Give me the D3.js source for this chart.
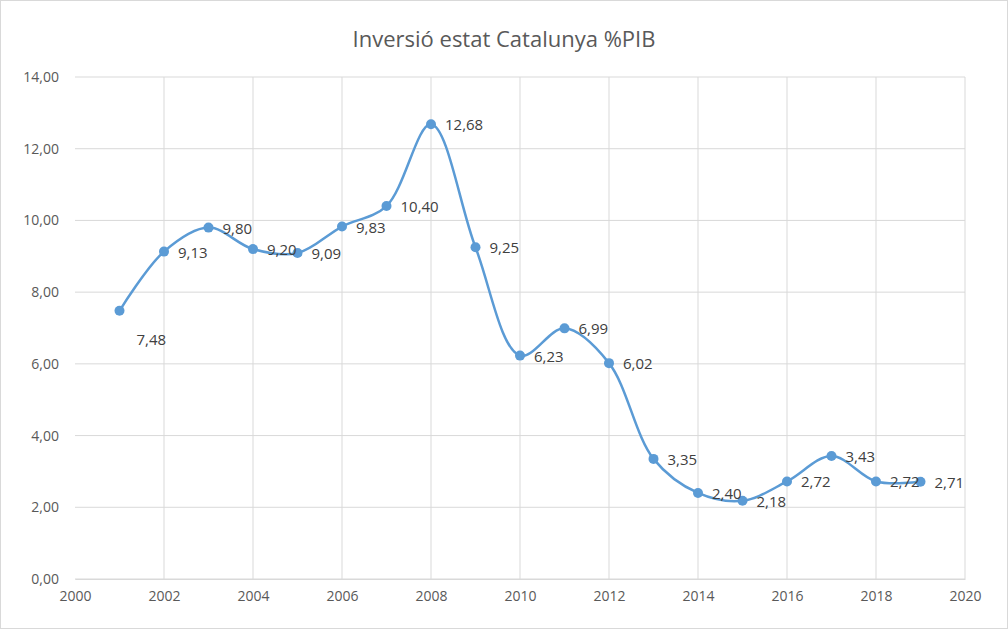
<!DOCTYPE html>
<html><head><meta charset="utf-8">
<script src="https://cdn.jsdelivr.net/npm/d3@7"></script>
<style>body{margin:0;background:#fff;font-family:"Open Sans",sans-serif;}</style>
</head><body>
<svg id="chart" width="1008" height="629"></svg>
<script>
const years = [2001,2002,2003,2004,2005,2006,2007,2008,2009,2010,2011,2012,2013,2014,2015,2016,2017,2018,2019];
const values = [7.48,9.13,9.80,9.20,9.09,9.83,10.40,12.68,9.25,6.23,6.99,6.02,3.35,2.40,2.18,2.72,3.43,2.72,2.71];
const xTicks = [2000,2002,2004,2006,2008,2010,2012,2014,2016,2018,2020];
const yTicks = [0,2,4,6,8,10,12,14];
const title = 'Inversió estat Catalunya %PIB';

const svg = d3.select('#chart');
const fmt = v => d3.format('.2f')(v).replace('.', ',');
const color = '#5b9bd5';

svg.append('rect').attr('x', 0.5).attr('y', 0.5).attr('width', 1007).attr('height', 628)
  .attr('fill', '#fff').attr('stroke', '#d9d9d9');

svg.append('text').attr('x', 504).attr('y', 47).attr('text-anchor', 'middle')
  .attr('font-size', 22).attr('fill', '#595959').text(title);

const x = d3.scaleLinear().domain([2000, 2020]).range([75, 965]);
const y = d3.scaleLinear().domain([0, 14]).range([579, 77]);

// gridlines
svg.append('g').selectAll('line').data(yTicks).join('line')
  .attr('x1', x(2000)).attr('x2', x(2020)).attr('y1', d => y(d)).attr('y2', d => y(d))
  .attr('stroke', '#d9d9d9');
svg.append('g').selectAll('line').data(xTicks.slice(1)).join('line')
  .attr('x1', d => x(d)).attr('x2', d => x(d)).attr('y1', y(0)).attr('y2', y(14))
  .attr('stroke', '#d9d9d9');

const xAxis = svg.append('g').attr('transform', `translate(0,${y(0)})`)
  .call(d3.axisBottom(x).tickValues(xTicks).tickFormat(d3.format('d')).tickSize(0).tickPadding(12));
xAxis.select('.domain').attr('stroke', '#d9d9d9');
xAxis.selectAll('text').attr('font-size', 14).attr('fill', '#595959').attr('font-family', 'Open Sans');

const yAxis = svg.append('g').attr('transform', `translate(${x(2000)},0)`)
  .call(d3.axisLeft(y).tickValues(yTicks).tickFormat(fmt).tickSize(0).tickPadding(16));
yAxis.select('.domain').remove();
yAxis.selectAll('text').attr('font-size', 14).attr('fill', '#595959').attr('font-family', 'Open Sans');

const pts = years.map((yr, i) => [yr, values[i]]);
svg.append('path').datum(pts)
  .attr('d', d3.line().x(d => x(d[0])).y(d => y(d[1])).curve(d3.curveCatmullRom.alpha(0.5)))
  .attr('fill', 'none').attr('stroke', color).attr('stroke-width', 2.5);

svg.append('g').selectAll('circle').data(pts).join('circle')
  .attr('cx', d => x(d[0])).attr('cy', d => y(d[1])).attr('r', 5).attr('fill', color);

svg.append('g').selectAll('text').data(pts).join('text')
  .attr('x', (d, i) => x(d[0]) + (i === 0 ? 17 : 14))
  .attr('y', (d, i) => y(d[1]) + (i === 0 ? 30 : 2))
  .attr('dominant-baseline', 'middle')
  .attr('font-size', 15).attr('fill', '#404040')
  .text(d => fmt(d[1]));
</script>
</body></html>
